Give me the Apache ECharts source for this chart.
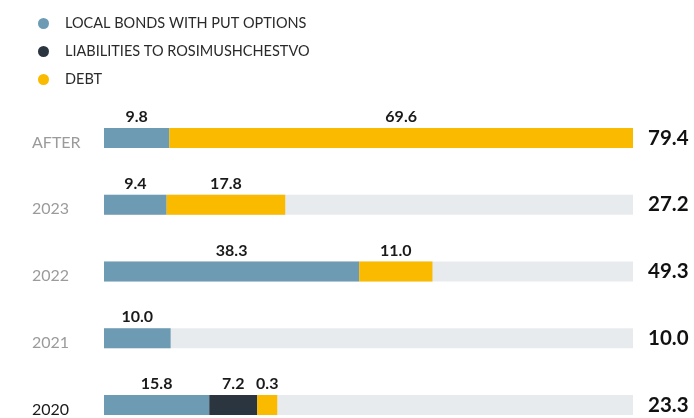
<!DOCTYPE html>
<html>
<head>
<meta charset="utf-8">
<script src="https://cdn.jsdelivr.net/npm/echarts@6/dist/echarts.min.js"></script>
<style>
  html, body { margin: 0; padding: 0; background: #ffffff; }
  #chart { width: 694px; height: 418px; }
</style>
</head>
<body>
<div id="chart"></div>
<script>
// Repayment profile, in stacked bars per period
const categories = ['AFTER', '2023', '2022', '2021', '2020'];
const localBonds = [9.8, 9.4, 38.3, 10.0, 15.8];
const rosimushchestvo = [0, 0, 0, 0, 7.2];
const debt = [69.6, 17.8, 11.0, 0, 0.3];

const seriesNames = ['LOCAL BONDS WITH PUT OPTIONS', 'LIABILITIES TO ROSIMUSHCHESTVO', 'DEBT'];
const colors = ['#6d9bb3', '#2b3540', '#f9ba00'];

const totals = categories.map((_, i) =>
  Math.round((localBonds[i] + rosimushchestvo[i] + debt[i]) * 10) / 10
);
const axisMax = Math.max(...totals);

// empty segments are left out of the stack entirely
const asBarData = arr => arr.map(v => (v > 0 ? v : '-'));

const FONT = 'Lato, "Noto Sans", sans-serif';

const valueLabel = {
  show: true,
  position: 'top',
  distance: 3,
  fontFamily: FONT,
  fontWeight: 'bold',
  fontSize: 16,
  color: '#1a1a1a',
  formatter: p => Number(p.value).toFixed(1)
};

const chart = echarts.init(document.getElementById('chart'), null, { renderer: 'canvas' });

chart.setOption({
  animation: false,
  color: colors,
  legend: {
    orient: 'vertical',
    left: 33,
    top: 11,
    icon: 'circle',
    itemWidth: 11,
    itemHeight: 11,
    itemGap: 13,
    selectedMode: false,
    textStyle: {
      fontFamily: FONT,
      fontSize: 14.5,
      color: '#2a2a2a',
      padding: [0, 0, 0, 11]
    },
    data: seriesNames
  },
  grid: {
    left: 104,
    width: 529,
    top: 138,
    height: 267,
    containLabel: false
  },
  xAxis: {
    type: 'value',
    min: 0,
    max: axisMax,
    show: false
  },
  yAxis: [
    {
      type: 'category',
      data: categories,
      inverse: true,
      boundaryGap: false,
      position: 'left',
      axisLine: { show: false },
      axisTick: { show: false },
      axisLabel: {
        margin: 72,
        align: 'left',
        padding: [9, 0, 0, 0],
        formatter: v => (v === '2020' ? '{k|' + v + '}' : '{g|' + v + '}'),
        rich: {
          g: { fontFamily: FONT, fontSize: 16, color: '#9b9b9b' },
          k: { fontFamily: FONT, fontSize: 16, color: '#1a1a1a' }
        }
      }
    },
    {
      type: 'category',
      data: categories,
      inverse: true,
      boundaryGap: false,
      position: 'right',
      axisLine: { show: false },
      axisTick: { show: false },
      axisLabel: {
        margin: 15,
        align: 'left',
        padding: [4, 0, 0, 0],
        fontFamily: FONT,
        fontWeight: 'bold',
        fontSize: 20.5,
        color: '#111111',
        formatter: (v, i) => totals[i].toFixed(1)
      }
    }
  ],
  series: [
    {
      name: seriesNames[0],
      type: 'bar',
      stack: 'total',
      barWidth: 20,
      data: asBarData(localBonds),
      showBackground: true,
      backgroundStyle: { color: '#e8ebee' },
      label: valueLabel
    },
    {
      name: seriesNames[1],
      type: 'bar',
      stack: 'total',
      barWidth: 20,
      data: asBarData(rosimushchestvo),
      label: valueLabel
    },
    {
      name: seriesNames[2],
      type: 'bar',
      stack: 'total',
      barWidth: 20,
      barMinHeight: 20,
      data: asBarData(debt),
      label: valueLabel
    }
  ]
});
</script>
</body>
</html>
